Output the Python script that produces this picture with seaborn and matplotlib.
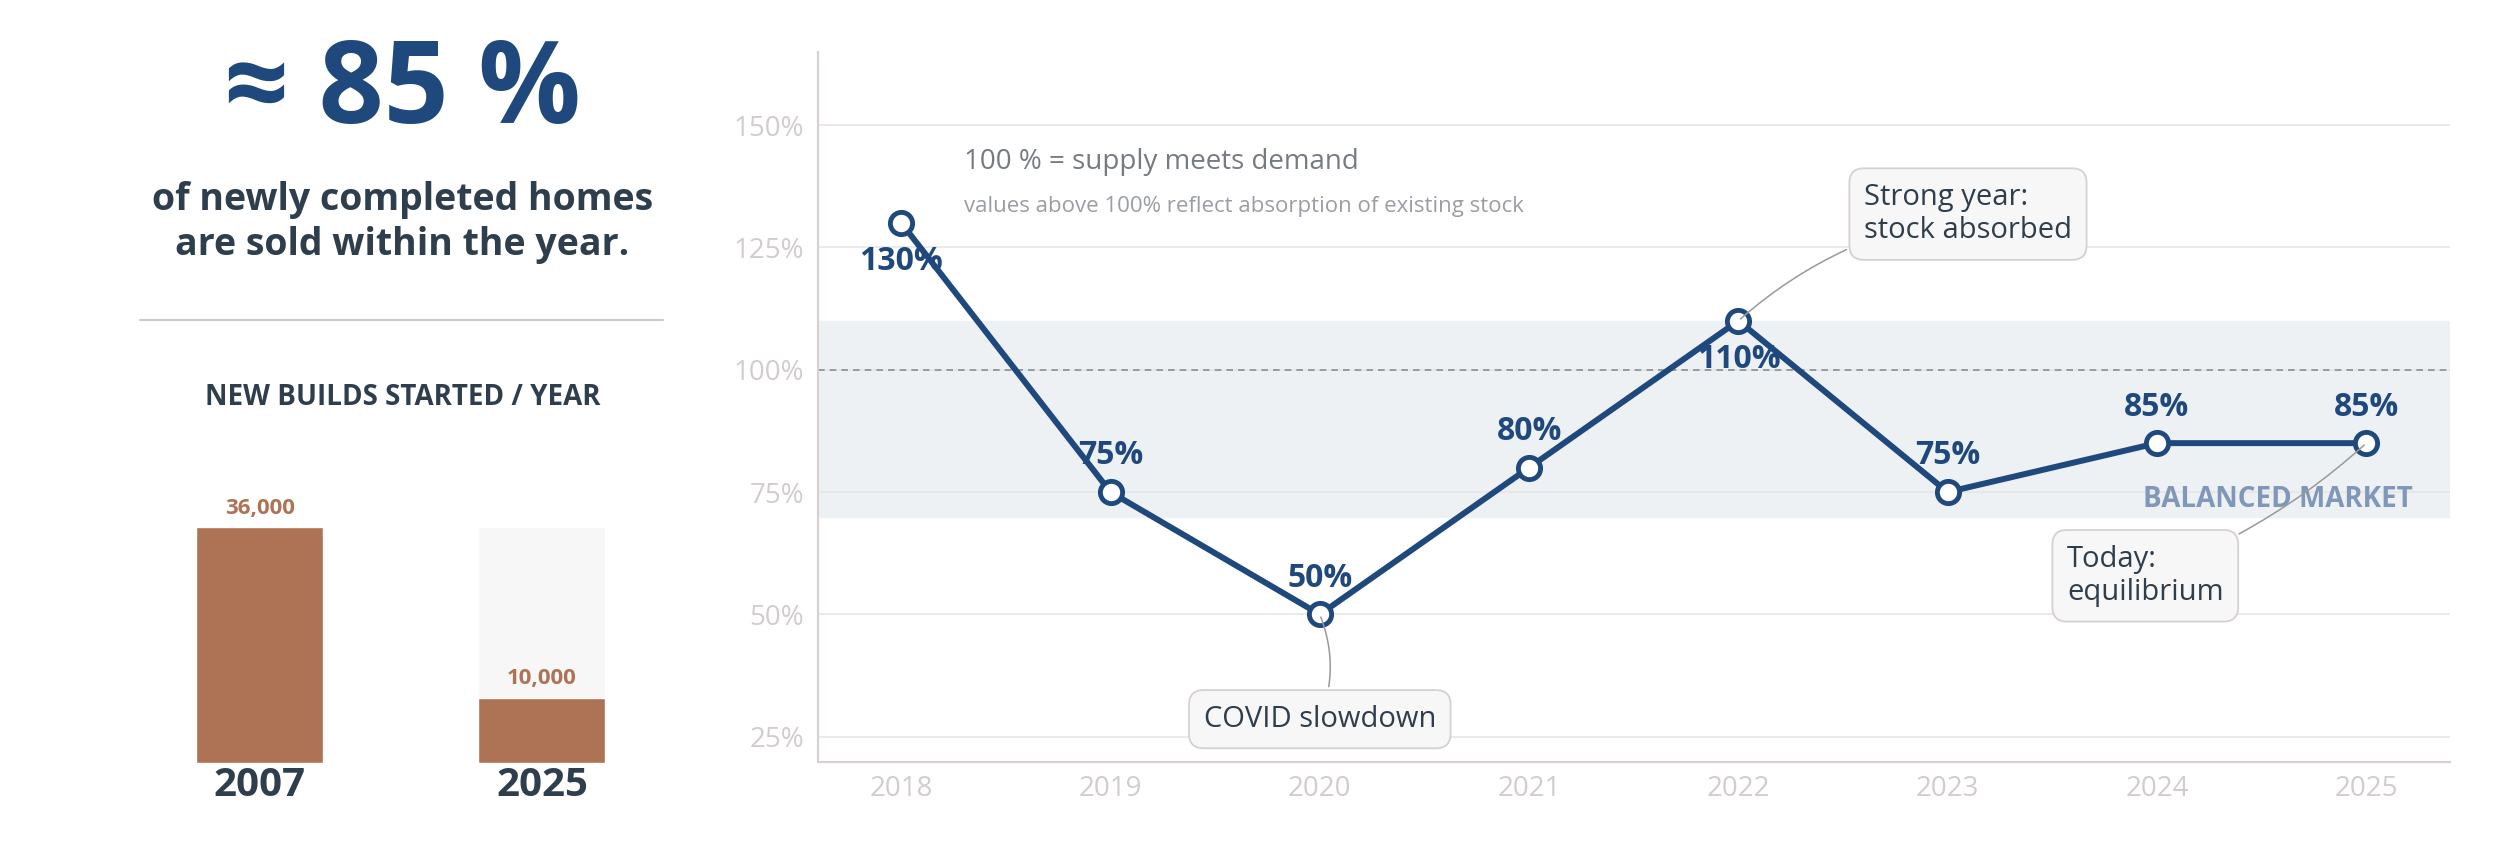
import matplotlib
matplotlib.use('Agg')
import matplotlib.pyplot as plt
import seaborn as sns
import pandas as pd

years = [2018, 2019, 2020, 2021, 2022, 2023, 2024, 2025]
sold_pct = [130, 75, 50, 80, 110, 75, 85, 85]
label_above = [False, True, True, True, False, True, True, True]

build_years = ['2007', '2025']
builds = [36000, 10000]

BLUE = '#1f497d'
DARK = '#2f3e4c'
RUST = '#ae7254'
TICK = '#d3cccc'
FONT = ['Open Sans', 'DejaVu Sans']

sns.set_theme(style='white')
plt.rcParams['font.family'] = FONT

fig = plt.figure(figsize=(25, 8.46), dpi=100)

# ---- left panel: headline ----
fig.text(0.161, 0.89, '≈ 85 %', ha='center', va='center', fontsize=82, fontweight='bold', color=BLUE)
fig.text(0.161, 0.737, 'of newly completed homes\nare sold within the year.', ha='center', va='center',
         fontsize=27, fontweight='bold', color=DARK, linespacing=1.25)
fig.add_artist(plt.Line2D([0.056, 0.265], [0.622, 0.622], color='#d0c8cc', lw=1.5))
fig.text(0.161, 0.53, 'NEW BUILDS STARTED / YEAR', ha='center', va='center', fontsize=20,
         fontweight='bold', color=DARK)

axb = fig.add_axes([0.064, 0.098, 0.19, 0.29])
bdf = pd.DataFrame({'year': build_years, 'n': builds})
sns.barplot(data=bdf, x='year', y=[max(builds)] * len(builds), ax=axb, color='#f7f7f7', width=0.45)
sns.barplot(data=bdf, x='year', y='n', ax=axb, color=RUST, width=0.45, saturation=1)
for i, v in enumerate(builds):
    axb.text(i, v + 1300, f'{v:,}', ha='center', va='bottom', fontsize=16, fontweight='bold', color=RUST)
axb.set_xlim(-0.354, 1.33)
axb.set_ylim(0, max(builds) * 1.04)
axb.set_xlabel('')
axb.set_ylabel('')
axb.set_yticks([])
axb.tick_params(axis='x', labelsize=29, colors=DARK, pad=2, length=0)
for t in axb.get_xticklabels():
    t.set_fontweight('bold')
sns.despine(ax=axb, left=True, bottom=True)

# ---- right panel: sold share ----
ax = fig.add_axes([0.327, 0.099, 0.653, 0.84])
ax.axhspan(70, 110, color='#eef1f4', zorder=0)
ax.axhline(100, color='#8a8f96', lw=1.2, ls=(0, (4, 3)), zorder=1)
df = pd.DataFrame({'year': years, 'pct': sold_pct})
sns.lineplot(data=df, x='year', y='pct', ax=ax, color=BLUE, lw=4.3, marker='o', markersize=16,
             markerfacecolor='white', markeredgecolor=BLUE, markeredgewidth=3.5, zorder=5)
for x, y, up in zip(years, sold_pct, label_above):
    ax.annotate(f'{y}%', (x, y), xytext=(0, 26 if up else -28), textcoords='offset points',
                ha='center', va='center', fontsize=23, fontweight='bold', color=BLUE, zorder=6)

ax.set_xlim(2017.6, 2025.4)
ax.set_ylim(19.8, 165)
ax.set_yticks([25, 50, 75, 100, 125, 150])
ax.set_yticklabels([f'{v}%' for v in [25, 50, 75, 100, 125, 150]])
ax.set_xticks(years)
ax.tick_params(axis='both', labelsize=20, colors=TICK)
ax.tick_params(axis='x', length=6, color=TICK)
ax.grid(axis='y', color='#e6e6e6', lw=1.2)
ax.set_axisbelow(True)
ax.set_xlabel('')
ax.set_ylabel('')
for s in ['top', 'right']:
    ax.spines[s].set_visible(False)
for s in ['left', 'bottom']:
    ax.spines[s].set_color('#d8d0d0')
    ax.spines[s].set_linewidth(1.5)

ax.text(2018.3, 142.5, '100 % = supply meets demand', fontsize=20, color='#767b82', va='center')
ax.text(2018.3, 133.4, 'values above 100% reflect absorption of existing stock', fontsize=16,
        color='#9a9ea4', va='center')
ax.text(2025.22, 73.5, 'BALANCED MARKET', ha='right', va='center', fontsize=20, fontweight='bold',
        color='#7f97b8', zorder=2)

box = dict(boxstyle='round,pad=0.5', fc='#f7f7f7', ec='#d8d0d0', lw=1.3)
arrow = dict(arrowstyle='-', color='#999999', lw=1.1, connectionstyle='arc3,rad=0.15')
ax.annotate('Strong year:\nstock absorbed', xy=(2022, 110), xytext=(2022.6, 131.8),
            fontsize=21, color=DARK, va='center', ha='left', bbox=box, arrowprops=arrow, zorder=7)
ax.annotate('COVID slowdown', xy=(2020, 50), xytext=(2020, 28.6),
            fontsize=21, color=DARK, va='center', ha='center', bbox=box,
            arrowprops=dict(arrowstyle='-', color='#999999', lw=1.1, connectionstyle='arc3,rad=0.2'), zorder=7)
ax.annotate('Today:\nequilibrium', xy=(2025, 85), xytext=(2023.57, 57.9),
            fontsize=21, color=DARK, va='center', ha='left', bbox=box,
            arrowprops=dict(arrowstyle='-', color='#999999', lw=1.1, connectionstyle='arc3,rad=0.1'), zorder=7)

fig.savefig('out.png', dpi=100, facecolor='white')
